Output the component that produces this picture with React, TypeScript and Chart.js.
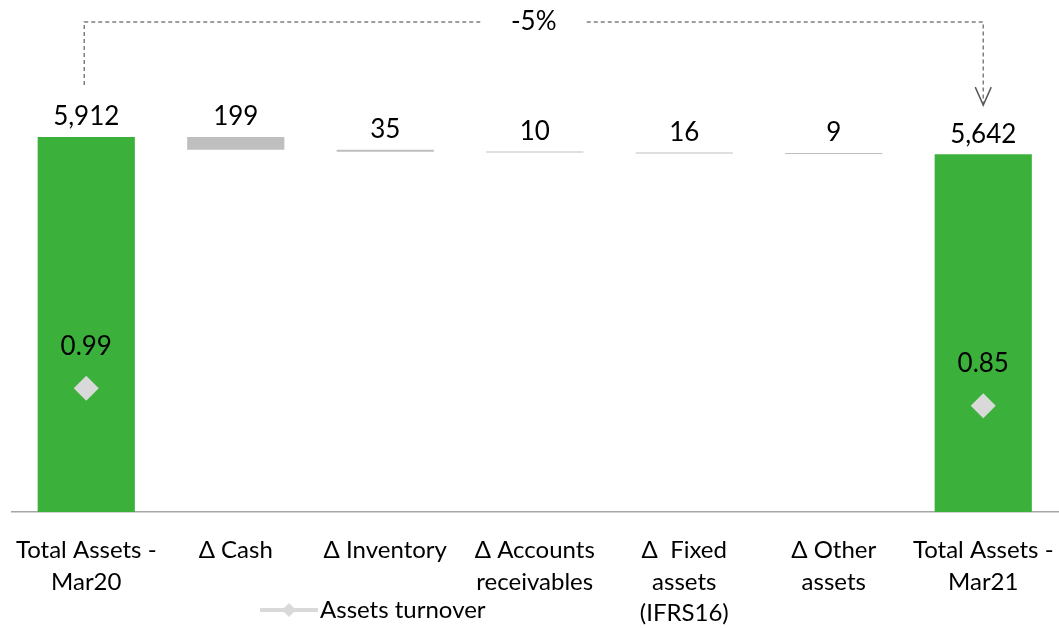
import React, { useEffect, useRef } from "react";
import { Chart, registerables } from "chart.js";

Chart.register(...registerables);

const FONT = "Lato, 'Open Sans', sans-serif";

const categories: string[][] = [
  ["Total Assets -", "Mar20"],
  ["Δ Cash"],
  ["Δ Inventory"],
  ["Δ Accounts", "receivables"],
  ["Δ  Fixed", "assets", "(IFRS16)"],
  ["Δ Other", "assets"],
  ["Total Assets -", "Mar21"],
];
const openingTotal = 5912;
const closingTotal = 5642;
const assetChanges = [-199, -35, -10, -16, -9];
const assetsTurnover: (number | null)[] = [0.99, null, null, null, null, null, 0.85];
const turnoverLabel = "Assets turnover";

const GREEN = "#3bb13b";
const GREY_BAR = "#bfbfbf";
const DIAMOND = "#d9d9d9";

function buildBars() {
  const ranges: [number, number][] = [[0, openingTotal]];
  let level = openingTotal;
  assetChanges.forEach((d) => {
    const next = level + d;
    ranges.push([Math.min(level, next), Math.max(level, next)]);
    level = next;
  });
  ranges.push([0, closingTotal]);
  return ranges;
}

const barLabels = [
  openingTotal.toLocaleString("en-US"),
  ...assetChanges.map((d) => Math.abs(d).toLocaleString("en-US")),
  closingTotal.toLocaleString("en-US"),
];

const overlayPlugin = {
  id: "overlay",
  afterDatasetsDraw(chart: any) {
    const ctx = chart.ctx as CanvasRenderingContext2D;
    const barMeta = chart.getDatasetMeta(0);
    const lineMeta = chart.getDatasetMeta(1);
    ctx.save();
    ctx.fillStyle = "#000";
    ctx.textAlign = "center";
    ctx.textBaseline = "middle";
    ctx.font = `26px ${FONT}`;
    barMeta.data.forEach((el: any, i: number) => {
      const top = Math.min(el.y, el.base);
      ctx.fillText(barLabels[i], el.x, top - 20);
    });
    lineMeta.data.forEach((el: any, i: number) => {
      const v = assetsTurnover[i];
      if (v == null) return;
      ctx.fillText(v.toFixed(2), el.x, el.y - 42);
    });

    // bracket with change percentage
    const first = barMeta.data[0];
    const last = barMeta.data[barMeta.data.length - 1];
    const x0 = first.x - 2;
    const x1 = last.x;
    const yLine = 22;
    const leftEnd = Math.min(first.y, first.base) - 52;
    const tip = Math.min(last.y, last.base) - 49;
    const cx = (x0 + x1) / 2;
    const gap = 53;
    ctx.strokeStyle = "#7f7f7f";
    ctx.lineWidth = 1.5;
    ctx.setLineDash([4, 3]);
    ctx.beginPath();
    ctx.moveTo(x0, leftEnd);
    ctx.lineTo(x0, yLine);
    ctx.lineTo(cx - gap, yLine);
    ctx.moveTo(cx + gap, yLine);
    ctx.lineTo(x1, yLine);
    ctx.lineTo(x1, tip);
    ctx.stroke();
    ctx.setLineDash([]);
    ctx.strokeStyle = "#595959";
    ctx.beginPath();
    ctx.moveTo(x1 - 8, tip - 18);
    ctx.lineTo(x1, tip);
    ctx.lineTo(x1 + 8, tip - 18);
    ctx.stroke();
    const pct = Math.round((closingTotal / openingTotal - 1) * 100);
    ctx.fillText(`${pct}%`, cx, yLine);

    // legend
    const ly = 610;
    ctx.strokeStyle = DIAMOND;
    ctx.lineWidth = 4;
    ctx.beginPath();
    ctx.moveTo(260, ly);
    ctx.lineTo(318, ly);
    ctx.stroke();
    ctx.fillStyle = DIAMOND;
    ctx.beginPath();
    ctx.moveTo(289 - 7, ly);
    ctx.lineTo(289, ly - 7);
    ctx.lineTo(289 + 7, ly);
    ctx.lineTo(289, ly + 7);
    ctx.closePath();
    ctx.fill();
    ctx.fillStyle = "#000";
    ctx.textAlign = "left";
    ctx.font = `24px ${FONT}`;
    ctx.fillText(turnoverLabel, 320, ly);
    ctx.restore();
  },
};

export default function App() {
  const ref = useRef<HTMLCanvasElement>(null);
  useEffect(() => {
    if (!ref.current) return;
    const bars = buildBars();
    const chart = new Chart(ref.current, {
      type: "bar",
      data: {
        labels: categories,
        datasets: [
          {
            type: "bar",
            label: "Total assets",
            data: bars as any,
            backgroundColor: bars.map((_, i) =>
              i === 0 || i === bars.length - 1 ? GREEN : GREY_BAR
            ),
            categoryPercentage: 0.65,
            barPercentage: 1,
            minBarLength: 1,
            yAxisID: "y",
            order: 2,
          },
          {
            type: "line",
            label: turnoverLabel,
            data: assetsTurnover,
            borderColor: DIAMOND,
            backgroundColor: DIAMOND,
            pointStyle: "rectRot",
            pointRadius: 12.5,
            pointBorderWidth: 0,
            showLine: false,
            spanGaps: false,
            yAxisID: "y2",
            order: 1,
          } as any,
        ],
      },
      options: {
        responsive: false,
        animation: false,
        devicePixelRatio: 1,
        layout: { autoPadding: false, padding: { top: 68, left: 11.5, right: 1, bottom: 0 } },
        plugins: { legend: { display: false }, tooltip: { enabled: false } },
        scales: {
          x: {
            grid: { display: false },
            border: { display: true, color: "#a6a6a6", width: 1.5 },
            ticks: {
              color: "#000",
              font: { family: FONT, size: 24, lineHeight: 1.3125 },
              padding: 15,
              maxRotation: 0,
              autoSkip: false,
            },
            afterFit: (scale: any) => {
              scale.height = 118;
              scale.paddingLeft = 0;
              scale.paddingRight = 0;
            },
          },
          y: { display: false, min: 0, max: 7000 },
          y2: { display: false, min: 0, max: 3.55, position: "right" },
        },
      },
      plugins: [overlayPlugin],
    } as any);
    return () => chart.destroy();
  }, []);
  return (
    <div style={{ position: "fixed", left: 0, top: 0, width: 1059, height: 630, background: "#fff" }}>
      <canvas ref={ref} width={1059} height={630} />
    </div>
  );
}
